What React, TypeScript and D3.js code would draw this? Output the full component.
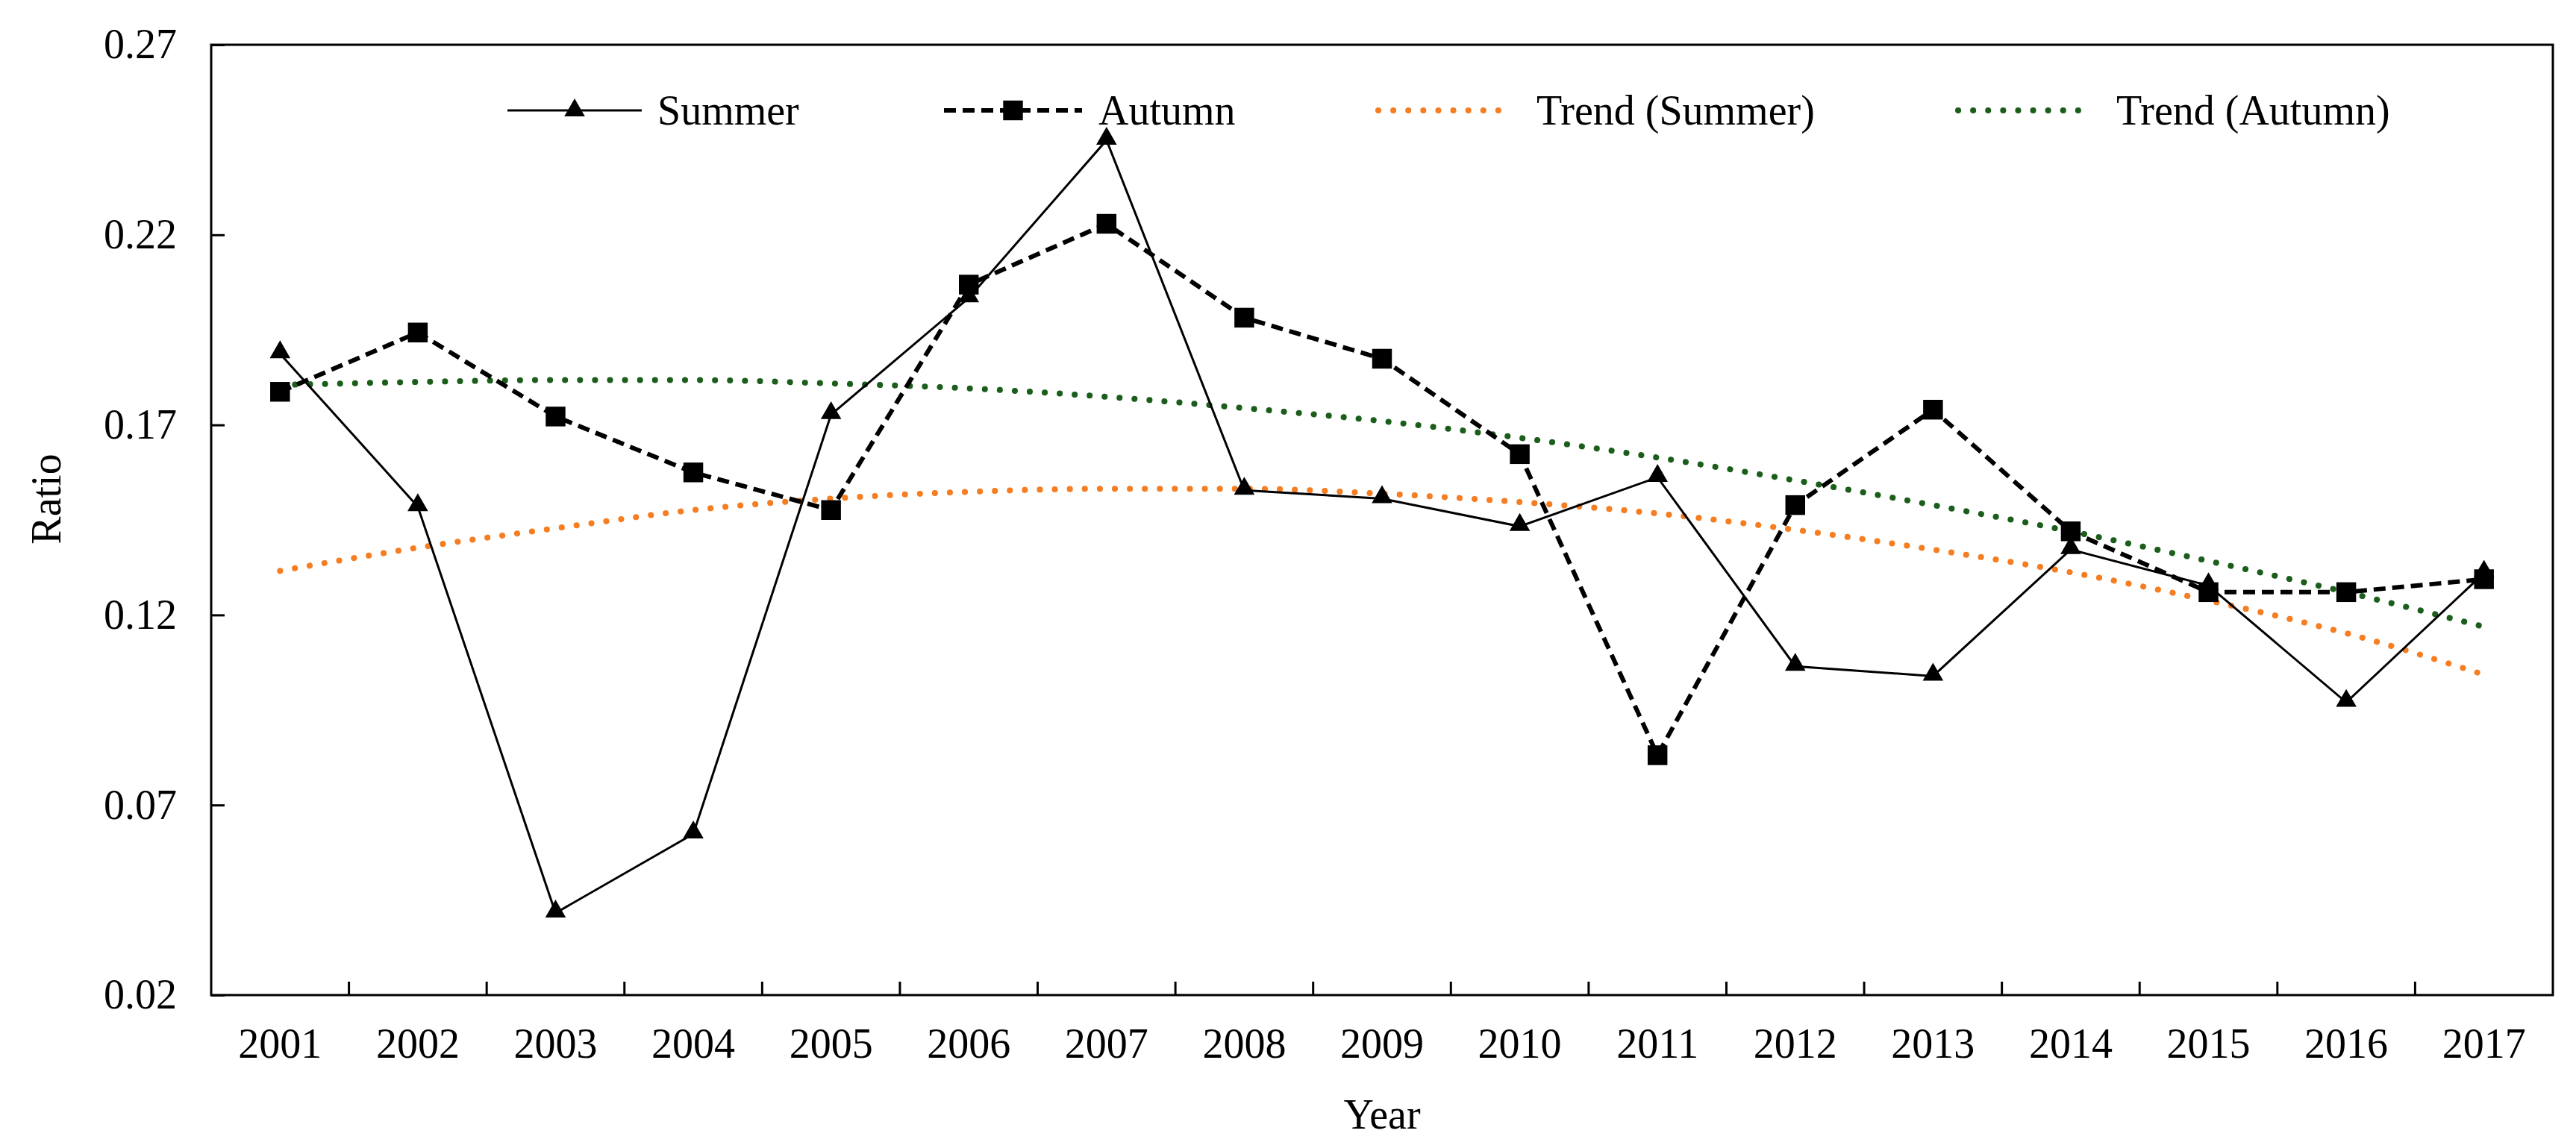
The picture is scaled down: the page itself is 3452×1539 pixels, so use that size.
import { useEffect, useRef } from 'react';
import * as d3 from 'd3';

const years = ['2001', '2002', '2003', '2004', '2005', '2006', '2007', '2008', '2009',
  '2010', '2011', '2012', '2013', '2014', '2015', '2016', '2017'];

const summer = [0.1887, 0.1485, 0.0416, 0.0624, 0.1727, 0.2034, 0.2449, 0.1528, 0.1506,
  0.1433, 0.1562, 0.1065, 0.1039, 0.1372, 0.1277, 0.0970, 0.1310];

const autumn = [0.1787, 0.1943, 0.1722, 0.1575, 0.1476, 0.2069, 0.2229, 0.1982, 0.1874,
  0.1623, 0.0831, 0.1489, 0.1740, 0.1420, 0.1260, 0.1260, 0.1294];

const trendSummer = [0.1316, 0.1377, 0.1428, 0.1476, 0.1506, 0.1524, 0.1532, 0.1532, 0.1519,
  0.1497, 0.1467, 0.1424, 0.1372, 0.1312, 0.1238, 0.1152, 0.1043];

const trendAutumn = [0.1805, 0.1813, 0.1818, 0.1818, 0.1809, 0.1796, 0.1774, 0.1744, 0.1710,
  0.1666, 0.1614, 0.1554, 0.1489, 0.1420, 0.1342, 0.1260, 0.1169];

const yTicks = [0.02, 0.07, 0.12, 0.17, 0.22, 0.27];

const FONT = "'Times New Roman', 'Liberation Serif', serif";
const ORANGE = '#f57d22';
const GREEN = '#1b5e1b';

export default function App() {
  const svgRef = useRef<SVGSVGElement>(null);

  useEffect(() => {
    if (!svgRef.current) return;
    const svg = d3.select(svgRef.current);
    svg.selectAll('*').remove();

    const width = 3452;
    const height = 1539;
    const margin = { top: 60, right: 31, bottom: 205, left: 283 };
    const left = margin.left;
    const right = width - margin.right;
    const top = margin.top;
    const bottom = height - margin.bottom;

    const x = d3.scaleBand().domain(years).range([left, right]);
    const y = d3.scaleLinear().domain([0.02, 0.27]).range([bottom, top]);
    const cx = (d: string) => (x(d) || 0) + x.bandwidth() / 2;

    svg.append('rect').attr('width', width).attr('height', height).attr('fill', '#fff');

    // plot frame
    svg.append('rect')
      .attr('x', left).attr('y', top)
      .attr('width', right - left).attr('height', bottom - top)
      .attr('fill', 'none').attr('stroke', '#000').attr('stroke-width', 3);

    // y axis, ticks point inward
    const yAxis = svg.append('g')
      .attr('transform', `translate(${left},0)`)
      .call(d3.axisLeft(y).tickValues(yTicks).tickSizeInner(-18).tickSizeOuter(0)
        .tickPadding(46).tickFormat(d3.format('.2f')));
    yAxis.select('.domain').remove();
    yAxis.selectAll('line').attr('stroke', '#000').attr('stroke-width', 3);
    yAxis.selectAll('text')
      .attr('font-family', FONT).attr('font-size', 56).attr('fill', '#000');

    // x axis: labels at centres, ticks at category boundaries
    const xAxis = svg.append('g')
      .attr('transform', `translate(0,${bottom})`)
      .call(d3.axisBottom(x).tickSize(0).tickPadding(44));
    xAxis.select('.domain').remove();
    xAxis.selectAll('text')
      .attr('font-family', FONT).attr('font-size', 56).attr('fill', '#000');

    svg.append('g').selectAll('line')
      .data(years.slice(1))
      .enter().append('line')
      .attr('x1', d => x(d) || 0).attr('x2', d => x(d) || 0)
      .attr('y1', bottom).attr('y2', bottom - 18)
      .attr('stroke', '#000').attr('stroke-width', 3);

    // axis titles
    svg.append('text')
      .attr('x', (left + right) / 2).attr('y', 1513)
      .attr('text-anchor', 'middle')
      .attr('font-family', FONT).attr('font-size', 56)
      .text('Year');

    svg.append('text')
      .attr('transform', `translate(81,669) rotate(-90)`)
      .attr('text-anchor', 'middle')
      .attr('font-family', FONT).attr('font-size', 56)
      .text('Ratio');

    const line = d3.line<number>()
      .x((d, i) => cx(years[i]))
      .y(d => y(d));

    const smooth = d3.line<number>()
      .x((d, i) => cx(years[i]))
      .y(d => y(d))
      .curve(d3.curveMonotoneX);

    // trend lines
    svg.append('path').datum(trendSummer)
      .attr('d', smooth).attr('fill', 'none')
      .attr('stroke', ORANGE).attr('stroke-width', 8)
      .attr('stroke-dasharray', '0.1,20').attr('stroke-linecap', 'round');

    svg.append('path').datum(trendAutumn)
      .attr('d', smooth).attr('fill', 'none')
      .attr('stroke', GREEN).attr('stroke-width', 8)
      .attr('stroke-dasharray', '0.1,20').attr('stroke-linecap', 'round');

    // series
    svg.append('path').datum(summer)
      .attr('d', line).attr('fill', 'none')
      .attr('stroke', '#000').attr('stroke-width', 3);

    svg.append('path').datum(autumn)
      .attr('d', line).attr('fill', 'none')
      .attr('stroke', '#000').attr('stroke-width', 6)
      .attr('stroke-dasharray', '16,9');

    const tri = d3.symbol().type(d3.symbolTriangle).size(330);
    const sq = d3.symbol().type(d3.symbolSquare).size(700);

    svg.append('g').selectAll('path')
      .data(autumn)
      .enter().append('path')
      .attr('d', sq)
      .attr('transform', (d, i) => `translate(${cx(years[i])},${y(d)})`)
      .attr('fill', '#000');

    svg.append('g').selectAll('path')
      .data(summer)
      .enter().append('path')
      .attr('d', tri)
      .attr('transform', (d, i) => `translate(${cx(years[i])},${y(d) - 2})`)
      .attr('fill', '#000');

    // legend
    const legendY = 148;
    const legend = [
      { label: 'Summer', x1: 680, x2: 860, tx: 881, stroke: '#000', w: 3, dash: null, mark: tri },
      { label: 'Autumn', x1: 1265, x2: 1450, tx: 1472, stroke: '#000', w: 6, dash: '16,9', mark: sq },
      { label: 'Trend (Summer)', x1: 1847, x2: 2025, tx: 2059, stroke: ORANGE, w: 8, dash: '0.1,20', mark: null },
      { label: 'Trend (Autumn)', x1: 2624, x2: 2802, tx: 2836, stroke: GREEN, w: 8, dash: '0.1,20', mark: null },
    ];

    const lg = svg.append('g').selectAll('g').data(legend).enter().append('g');
    lg.append('line')
      .attr('x1', d => d.x1).attr('x2', d => d.x2)
      .attr('y1', legendY).attr('y2', legendY)
      .attr('stroke', d => d.stroke).attr('stroke-width', d => d.w)
      .attr('stroke-dasharray', d => d.dash)
      .attr('stroke-linecap', d => (d.mark ? 'butt' : 'round'));
    lg.filter(d => !!d.mark).append('path')
      .attr('d', d => (d.mark as any)())
      .attr('transform', d => `translate(${(d.x1 + d.x2) / 2},${legendY})`)
      .attr('fill', '#000');
    lg.append('text')
      .attr('x', d => d.tx).attr('y', legendY + 19)
      .attr('font-family', FONT).attr('font-size', 56)
      .text(d => d.label);
  }, []);

  return (
    <svg
      ref={svgRef}
      width={3452}
      height={1539}
      style={{ position: 'absolute', left: 0, top: 0, display: 'block' }}
    />
  );
}
